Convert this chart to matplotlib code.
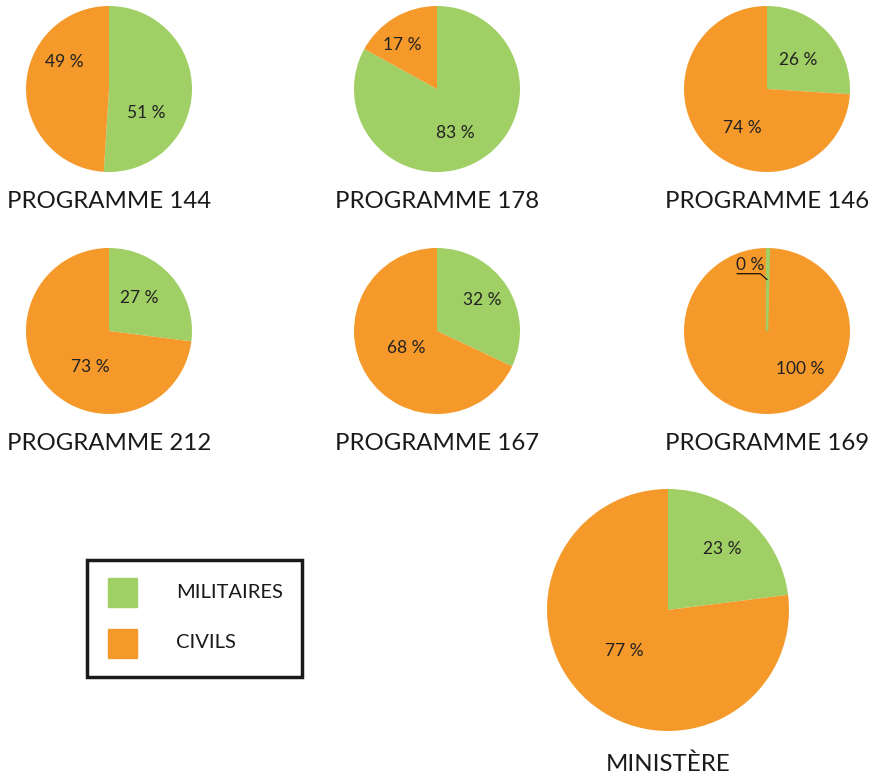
import matplotlib
matplotlib.use("Agg")
import matplotlib.pyplot as plt
import matplotlib.patches as mpatches

# --- DATA ---
titles = ["PROGRAMME 144", "PROGRAMME 178", "PROGRAMME 146",
          "PROGRAMME 212", "PROGRAMME 167", "PROGRAMME 169", "MINISTÈRE"]
militaires = [51, 83, 26, 27, 32, 0.4, 23]
civils = [49, 17, 74, 73, 68, 99.6, 77]
pct_mil = ["51 %", "83 %", "26 %", "27 %", "32 %", "0 %", "23 %"]
pct_civ = ["49 %", "17 %", "74 %", "73 %", "68 %", "100 %", "77 %"]

GREEN = '#a0cf65'
ORANGE = '#f5992b'
FONT = 'Lato'

W, H = 879, 781
fig = plt.figure(figsize=(W / 100, H / 100), dpi=100)

# pie centres and radii in pixels (x, y from top)
layout = [(109, 89, 83), (437, 89, 83), (767, 89, 83),
          (109, 331, 83), (437, 331, 83), (767, 331, 83),
          (668, 610, 121)]
# label positions in radius units (mil, civ)
lab_pos = [((0.45, -0.29), (-0.54, 0.33)),
           ((0.22, -0.53), (-0.42, 0.53)),
           ((0.37, 0.35), (-0.30, -0.47)),
           ((0.37, 0.40), (-0.23, -0.43)),
           ((0.54, 0.37), (-0.37, -0.20)),
           ((-0.20, 0.80), (0.40, -0.46)),
           ((0.45, 0.50), (-0.36, -0.34))]

for i, (cx, cy, r) in enumerate(layout):
    ax = fig.add_axes([(cx - r) / W, 1 - (cy + r) / H, 2 * r / W, 2 * r / H])
    wedges, _ = ax.pie([militaires[i], civils[i]], colors=[GREEN, ORANGE],
                       startangle=90, counterclock=False, radius=1,
                       wedgeprops=dict(linewidth=0))
    if i == 5:
        # make the tiny slice visible as a thin line, kept inside the circle
        wedges[0].set_edgecolor(GREEN)
        wedges[0].set_linewidth(1.6)
        wedges[0].set_zorder(3)
        wedges[0].set_clip_on(True)
        wedges[0].set_clip_path(mpatches.Circle((0, 0), 1, transform=ax.transData))
    ax.set_xlim(-1, 1)
    ax.set_ylim(-1, 1)
    ax.set_aspect('equal')
    ax.axis('off')
    (mx, my), (ox, oy) = lab_pos[i]
    ax.text(mx, my, pct_mil[i], ha='center', va='center', fontsize=12.5,
            family=FONT, color='#222222', zorder=5)
    ax.text(ox, oy, pct_civ[i], ha='center', va='center', fontsize=12.5,
            family=FONT, color='#222222', zorder=5)
    if i == 5:
        # leader line for the 0 % slice
        ax.plot([-0.36, -0.08, 0.0], [0.69, 0.69, 0.62], color='black', lw=0.8,
                clip_on=False, zorder=5)
    gap = 33 if r > 100 else 30
    fig.text(cx / W, 1 - (cy + r + gap) / H, titles[i], ha='center', va='center',
             fontsize=17.3, family=FONT, color='#1a1a1a')

# legend box
lx0, ly0, lx1, ly1 = 87, 560, 302, 677
fig.patches.append(mpatches.Rectangle((lx0 / W, 1 - ly1 / H), (lx1 - lx0) / W,
                                      (ly1 - ly0) / H, transform=fig.transFigure,
                                      fill=False, edgecolor='#1a1a1a', linewidth=2.5))
for (label, col, yy) in [("MILITAIRES", GREEN, 592), ("CIVILS", ORANGE, 643)]:
    fig.patches.append(mpatches.Rectangle((108 / W, 1 - (yy + 15) / H), 29 / W, 29 / H,
                                          transform=fig.transFigure, color=col))
    fig.text(176 / W, 1 - yy / H, label, ha='left', va='center', fontsize=14.5,
             family=FONT, color='#1a1a1a')

fig.savefig('out.png', dpi=100)
